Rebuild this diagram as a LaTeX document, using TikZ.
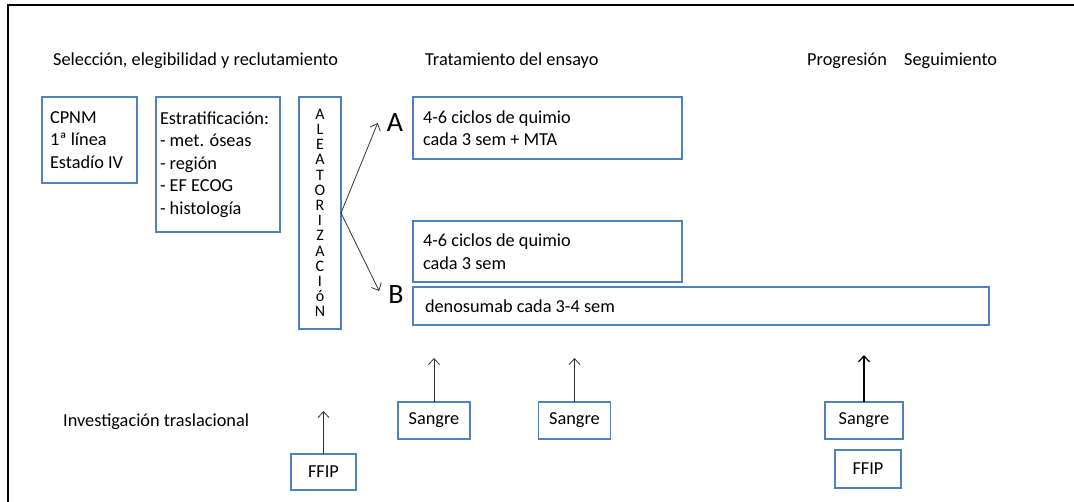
\documentclass[tikz,border=0pt]{standalone}
\usepackage{fontspec}
\setmainfont{Carlito}
\usetikzlibrary{positioning, arrows.meta}

\definecolor{boxblue}{RGB}{79,129,189}
\tikzset{
    box/.style={draw=boxblue, line width=1.2pt, align=flush left, outer sep=0pt},
    tag/.style={inner sep=0pt, anchor=base west},
    arm/.style={font=\fontsize{28}{28}\selectfont, inner xsep=9pt},
    link/.style={draw=black!80, line width=0.8pt, -{Straight Barb[length=6pt,width=11pt]}},
}

\begin{document}
\begin{tikzpicture}[x=1pt, y=1pt, font=\fontsize{18.3}{22.5}\selectfont]
    \useasboundingbox (0,0) rectangle (1074,-502);
    \draw[line width=2.5pt] (8,-502) -- (8,-5) -- (1074,-5);

    % headings
    \node[tag] (hsel)  at (53,-66)  {Selección, elegibilidad y reclutamiento};
    \node[tag] (htrt)  at (425,-66) {Tratamiento del ensayo};
    \node[tag] (hprog) at (807,-66) {Progresión};
    \node[tag] (hseg)  at (904,-66) {Seguimiento};
    \node[tag] (hinv)  at (63,-427) {Investigación traslacional};

    % upper row
    \node[box, anchor=north west, inner xsep=8pt, text width=79pt, minimum height=86pt] (cpnm) at (42,-97)
        {CPNM\\1ª línea\\Estadío IV};
    \node[box, right=19pt of cpnm.north east, anchor=north west, inner xsep=4pt, text width=116pt, minimum height=135pt] (estrat)
        {Estratificación:\\- met. óseas\\- región\\- EF ECOG\\- histología};
    \node[box, right=19pt of estrat.north east, anchor=north west, align=center, inner sep=0pt,
          minimum width=42pt, minimum height=232pt, font=\fontsize{16}{15.2}\selectfont] (aleat)
        {A\\L\\E\\A\\T\\O\\R\\I\\Z\\A\\C\\I\\ó\\N};
    \node[box, right=72pt of aleat.north east, anchor=north west, inner xsep=10pt, text width=249pt, minimum height=62pt] (trtA)
        {4-6 ciclos de quimio\\cada 3 sem + MTA};
    \node[box, below=62pt of trtA.south west, anchor=north west, inner xsep=10pt, text width=249pt, minimum height=61pt] (trtB)
        {4-6 ciclos de quimio\\cada 3 sem};
    \node[box, below=5pt of trtB.south west, anchor=north west, inner xsep=12pt, text width=552pt, minimum height=38pt] (deno)
        {denosumab cada 3-4 sem};

    \node[arm] (armA) at (395,-123) {A};
    \node[arm] (armB) at (396,-295) {B};
    \draw[link] (aleat.east) -- (armA.west);
    \draw[link] (aleat.east) -- ([yshift=4pt]armB.west);

    % lower row
    \node[box, align=center, minimum width=65pt, minimum height=36pt] (ffipL) at (323.5,-472) {FFIP};
    \node[box, align=center, minimum width=72pt, minimum height=37pt] (sang1) at (434,-420.5) {Sangre};
    \node[box, align=center, minimum width=72pt, minimum height=37pt] (sang2) at (574.5,-420.5) {Sangre};
    \node[box, align=center, minimum width=78pt, minimum height=37pt] (sang3) at (864,-420.5) {Sangre};
    \node[box, align=center, minimum width=66pt, minimum height=38pt] (ffipR) at (868,-469) {FFIP};

    \coordinate[above=43pt of ffipL.north] (ffipL up);
    \coordinate[above=44pt of sang1.north] (sang1 up);
    \coordinate[above=44pt of sang2.north] (sang2 up);
    \coordinate[above=47pt of sang3.north] (sang3 up);

    \draw[link] (ffipL.north) -- (ffipL up);
    \draw[link] (sang1.north) -- (sang1 up);
    \draw[link] (sang2.north) -- (sang2 up);
    \draw[link, draw=black, line width=1.2pt] (sang3.north) -- (sang3 up);
\end{tikzpicture}
\end{document}
